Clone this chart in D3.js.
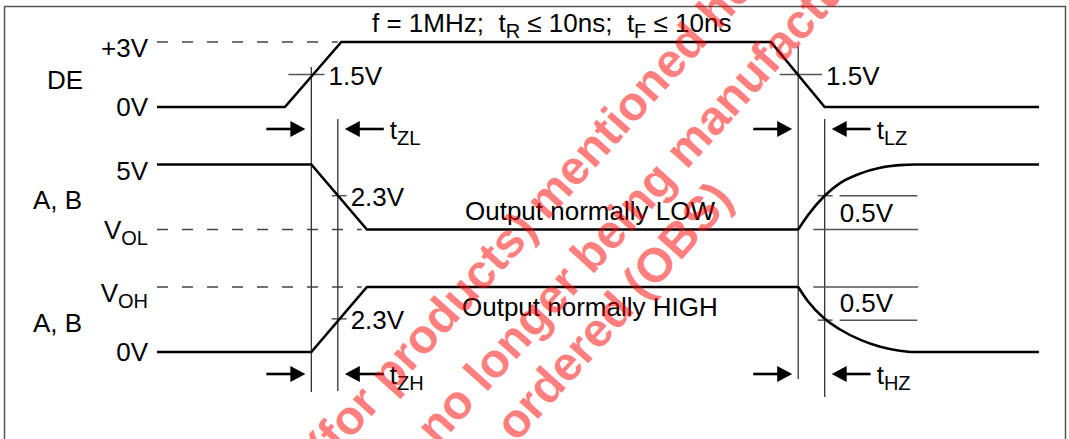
<!DOCTYPE html>
<html>
<head>
<meta charset="utf-8">
<script src="https://cdn.jsdelivr.net/npm/d3@7/dist/d3.min.js"></script>
<style>
  body { margin: 0; background: #fff; }
  svg { display: block; font-family: "Liberation Sans", Arial, Helvetica, sans-serif; }
  text { white-space: pre; }
</style>
</head>
<body>
<div id="chart"></div>
<script>
// signal rows, top to bottom
const rows = ["DE", "LOW", "HIGH"];

// waveforms: [time, normalised level]
const deWave = [[0, 0], [14.5, 0], [20.9, 1], [69.6, 1], [75.7, 0], [100, 0]];
const lowRamp = [[0, 1], [17.5, 1], [23.8, 0], [72.7, 0]];
const lowRecovery = [[72.7, 0], [73.8, 0.22], [75.7, 0.52], [77.4, 0.71], [79.7, 0.86], [82.0, 0.95], [84.2, 0.99], [86.0, 1], [100, 1]];
const highRamp = [[0, 0], [17.5, 0], [23.8, 1], [72.7, 1]];
const highDecay = [[72.7, 1], [73.8, 0.78], [75.7, 0.51], [77.4, 0.35], [79.7, 0.19], [82.0, 0.08], [84.2, 0.02], [85.8, 0], [100, 0]];

// dashed reference levels: row, level, end time
const refLevels = [["DE", 1, 20.5], ["LOW", 0, 23.2], ["HIGH", 1, 23.2]];

// level labels on the left: row, level, text, subscript
const levelLabels = [
  ["DE", 1, "+3V", ""], ["DE", 0, "0V", ""],
  ["LOW", 1, "5V", ""], ["LOW", 0, "V", "OL"],
  ["HIGH", 1, "V", "OH"], ["HIGH", 0, "0V", ""]
];
const rowNames = ["DE", "A, B", "A, B"];

// measurement markers (vertical lines) in time
const markers = [17.5, 20.5, 72.7, 75.7];

// threshold crossings: row, level, t0, t1, label
const crossings = [
  ["DE", 0.5, 14.9, 19.0, "1.5V"],
  ["DE", 0.5, 70.6, 75.4, "1.5V"],
  ["LOW", 0.52, 19.8, 21.5, "2.3V"],
  ["HIGH", 0.51, 19.8, 21.5, "2.3V"]
];

// 0.5V bands: row, level, t0, t1
const bandLines = [
  ["LOW", 0.52, 74.9, 76.6], ["LOW", 0.52, 77.4, 86.2], ["LOW", 0, 74.4, 86.3],
  ["HIGH", 1, 74.4, 86.3], ["HIGH", 0.49, 74.9, 76.6], ["HIGH", 0.49, 77.4, 86.2]
];

// timing parameters: subscript, row they sit under, start marker, end marker
const timings = [
  ["ZL", "DE", 17.5, 20.5], ["LZ", "DE", 72.7, 75.7],
  ["ZH", "HIGH", 17.5, 20.5], ["HZ", "HIGH", 72.7, 75.7]
];

const width = 1069, height = 439;

const svg = d3.select("#chart").append("svg")
  .attr("width", width)
  .attr("height", height);

const x = d3.scaleLinear().domain([0, 100]).range([157, 1039]);
const rowY = d3.scalePoint().domain(rows).range([107, 352]);
const amp = d3.scaleLinear().domain([0, 1]).range([0, 65]);
const y = (row, v) => rowY(row) - amp(v);

// frame
svg.append("rect")
  .attr("x", 4.5).attr("y", 6.5)
  .attr("width", 1061).attr("height", 460)
  .attr("fill", "none").attr("stroke", "#555").attr("stroke-width", 1.5);

// helper for text with optional subscripts
function addText(px, py, parts, anchor, size) {
  size = size || 26;
  const t = svg.append("text")
    .attr("x", px).attr("y", py)
    .attr("font-size", size)
    .attr("fill", "#000")
    .attr("text-anchor", anchor || "start");
  let shifted = false;
  parts.forEach(([s, sub]) => {
    if (!s) return;
    const ts = t.append("tspan").text(s);
    if (sub && !shifted) { ts.attr("dy", 6).attr("font-size", 20); shifted = true; }
    else if (sub) { ts.attr("font-size", 20); }
    else if (shifted) { ts.attr("dy", -6); shifted = false; }
  });
  return t;
}

// title
addText(372, 32, [["f = 1MHz;  t"], ["R", true], [" \u2264 10ns;  t"], ["F", true], [" \u2264 10ns"]]);

// dashed reference levels
svg.selectAll(".ref")
  .data(refLevels)
  .join("line")
  .attr("x1", x(0)).attr("x2", d => x(d[2]))
  .attr("y1", d => y(d[0], d[1])).attr("y2", d => y(d[0], d[1]))
  .attr("stroke", "#444").attr("stroke-width", 1.3)
  .attr("stroke-dasharray", "11,14");

// left labels
levelLabels.forEach(([row, lv, s, sub]) => {
  const off = lv === 1 ? 15 : 9;
  addText(148, y(row, lv) + off, [[s], [sub, true]], "end");
});
rowNames.forEach((name, i) => {
  const r = rows[i];
  addText(i === 0 ? 47 : 33, y(r, 0.5) + (i === 0 ? 14 : 12), [[name]]);
});

// marker lines
const markerSpan = [[67, 392], [119, 391], [46, 379], [119, 397]];
svg.selectAll(".marker")
  .data(markers)
  .join("line")
  .attr("x1", d => x(d)).attr("x2", d => x(d))
  .attr("y1", (d, i) => markerSpan[i][0]).attr("y2", (d, i) => markerSpan[i][1])
  .attr("stroke", "#333").attr("stroke-width", 1.3);

// crossing ticks
svg.selectAll(".cross")
  .data(crossings)
  .join("line")
  .attr("x1", d => x(d[2])).attr("x2", d => x(d[3]))
  .attr("y1", d => y(d[0], d[1])).attr("y2", d => y(d[0], d[1]))
  .attr("stroke", "#555").attr("stroke-width", 1.5);
crossings.forEach(d => addText(x(d[3]) + 4, y(d[0], d[1]) + 10, [[d[4]]]));

// 0.5V band lines
svg.selectAll(".band")
  .data(bandLines)
  .join("line")
  .attr("x1", d => x(d[2])).attr("x2", d => x(d[3]))
  .attr("y1", d => y(d[0], d[1])).attr("y2", d => y(d[0], d[1]))
  .attr("stroke", "#555").attr("stroke-width", 1.5);
addText(x(77.4), y("LOW", 0.26) + 9, [["0.5V"]]);
addText(x(77.4), y("HIGH", 0.75) + 9, [["0.5V"]]);

// waveforms
const line = d3.line().x(d => x(d[0]));
const curved = d3.line().x(d => x(d[0])).curve(d3.curveMonotoneX);
const waves = [
  [deWave, "DE", line], [lowRamp, "LOW", line], [lowRecovery, "LOW", curved],
  [highRamp, "HIGH", line], [highDecay, "HIGH", curved]
];
waves.forEach(([pts, row, gen]) => {
  svg.append("path")
    .datum(pts)
    .attr("d", gen.y(d => y(row, d[1])))
    .attr("fill", "none")
    .attr("stroke", "#000")
    .attr("stroke-width", 2.6)
    .attr("stroke-linejoin", "miter");
});

// output captions
addText(465, 220, [["Output normally LOW"]]);
addText(462, 316, [["Output normally HIGH"]]);

// timing arrows
function arrow(tip, ay, dir) {
  const len = 39, head = 15, hw = 8;
  const tail = tip - dir * len;
  svg.append("line")
    .attr("x1", tail).attr("x2", tip - dir * head + dir)
    .attr("y1", ay).attr("y2", ay)
    .attr("stroke", "#000").attr("stroke-width", 2.6);
  svg.append("path")
    .attr("d", `M${tip},${ay} L${tip - dir * head},${ay - hw} L${tip - dir * head},${ay + hw} Z`)
    .attr("fill", "#000");
}
timings.forEach(([sub, row, t0, t1]) => {
  const ay = rowY(row) + 22;
  arrow(x(t0) - 6, ay, 1);
  arrow(x(t1) + 7, ay, -1);
  addText(x(t1) + 52, ay + 10, [["t"], [sub, true]]);
});

// obsolete-product watermark
const wmLines = [
  ["data sheet (for products)", "mentioned herein that are"],
  ["that are no longer", "being manufactured and can"],
  ["and can no longer be ordered", "(OBS)"]
];
const wmAnchors = [[543, 226], [588, 280], [640, 306]];
wmLines.forEach(([before, after], i) => {
  const g = svg.append("g")
    .attr("transform", `translate(${wmAnchors[i][0]},${wmAnchors[i][1]}) rotate(-48)`)
    .attr("fill", "#ff0000").attr("fill-opacity", 0.5)
    .attr("font-size", 48).attr("font-weight", "bold");
  g.append("text").attr("x", -6).attr("text-anchor", "end").text(before);
  g.append("text").attr("x", 6).text(after);
});
</script>
</body>
</html>
